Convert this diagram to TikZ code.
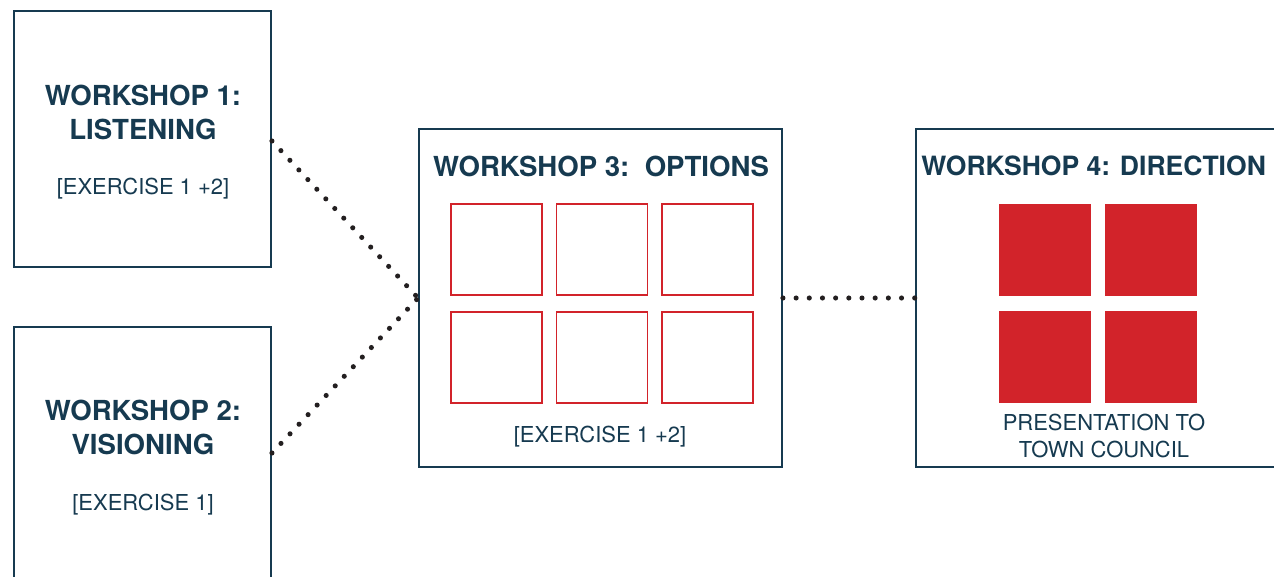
\documentclass[tikz,border=0pt]{standalone}
\usepackage{fontspec}
\setmainfont{TeX Gyre Heros}
\usetikzlibrary{matrix}

\definecolor{wsnavy}{HTML}{163A50}
\definecolor{wsred}{HTML}{D2232A}
\definecolor{wsdot}{HTML}{231F20}

\begin{document}
\begin{tikzpicture}[x=0.02cm, y=-0.02cm,
    wsbox/.style={draw=wsnavy, line width=1.1pt, inner sep=0pt},
    wstitle/.style={text=wsnavy, font=\fontsize{15.7}{19.3}\selectfont\bfseries, align=center, inner sep=0pt},
    wssub/.style={text=wsnavy, font=\fontsize{12.5}{15.9}\selectfont, align=center, inner sep=0pt},
    dotline/.style={draw=wsdot, line width=2.9pt, dash pattern=on 0pt off 7.5pt, line cap=round}]
    \useasboundingbox[fill=white] (0,0) rectangle (1274,577);

    % workshop boxes
    \node[wsbox, minimum width=5.14cm, minimum height=5.12cm] (ws1) at (142.5,139) {};
    \node[wsbox, minimum width=5.14cm, minimum height=5.12cm] (ws2) at (142.5,455) {};
    \node[wsbox, minimum width=7.26cm, minimum height=6.76cm] (ws3) at (600.5,298) {};
    \node[wsbox, minimum width=7.26cm, minimum height=6.76cm] (ws4) at (1097.5,298) {};

    % texts
    \node[wstitle] (ws1title) at (143,112) {WORKSHOP 1:\\LISTENING};
    \node[wssub] (ws1ex) at (143,189) {[EXERCISE 1 +2]};
    \node[wstitle] (ws2title) at (143,427.5) {WORKSHOP 2:\\VISIONING};
    \node[wssub] (ws2ex) at (143,505) {[EXERCISE 1]};
    \node[wstitle] (ws3title) at (601,166) {WORKSHOP 3:\ \ OPTIONS};
    \node[wssub] (ws3ex) at (600,437) {[EXERCISE 1 +2]};
    \node[wstitle, font=\fontsize{15.1}{19.3}\selectfont\bfseries, anchor=west] (ws4title) at (921,166) {WORKSHOP 4: DIRECTION};
    \node[wssub] (ws4pres) at (1104,436) {PRESENTATION TO\\TOWN COUNCIL};

    % option squares
    \matrix[matrix of nodes,
            nodes in empty cells,
            ampersand replacement=\&,
            nodes={draw=wsred, line width=0.9pt, minimum size=1.82cm, inner sep=0pt},
            row sep=0.3cm,
            column sep=0.26cm] (opts) at (602,303.5) {
      {} \& {} \& {} \\
      {} \& {} \& {} \\
    };

    % direction squares
    \matrix[matrix of nodes,
            nodes in empty cells,
            ampersand replacement=\&,
            nodes={fill=wsred, minimum size=1.84cm, inner sep=0pt},
            row sep=0.3cm,
            column sep=0.28cm] (dirs) at (1098,303.5) {
      {} \& {} \\
      {} \& {} \\
    };

    % connectors
    \draw[dotline] (ws1.east |- 0,141) -- (ws3.west);
    \draw[dotline] (ws2.east |- 0,453) -- (ws3.west);
    \draw[dotline] (ws3.east) -- (ws4.west);
\end{tikzpicture}
\end{document}
